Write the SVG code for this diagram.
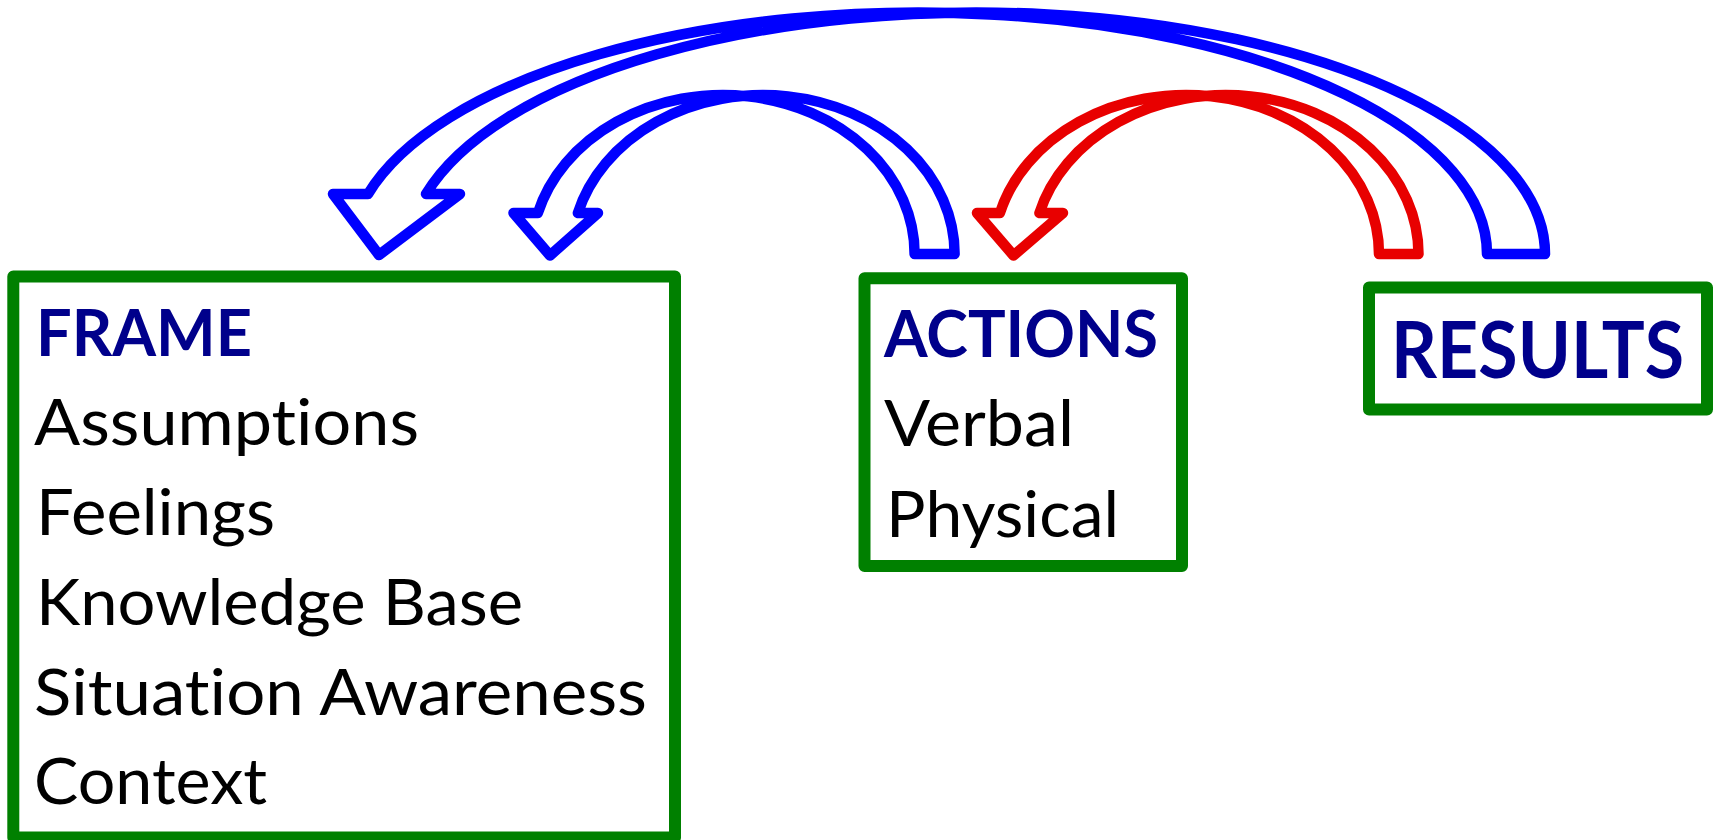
<svg xmlns="http://www.w3.org/2000/svg" width="1717" height="840" viewBox="0 0 1717 840">
  <style>
    text { font-variant-ligatures: none; font-feature-settings: "liga" 0, "clig" 0; }
    .box { fill: #FFFFFF; stroke: #008000; stroke-width: 12; stroke-linejoin: round; }
    .title { font-family: Lato, "Open Sans", "DejaVu Sans", sans-serif; font-weight: bold; fill: #00008B; }
    .item { font-family: Lato, "Open Sans", "DejaVu Sans", sans-serif; font-size: 64px; fill: #000000; }
    .arrow { fill: #FFFFFF; stroke-width: 10.5; stroke-linejoin: round; }
    .blue { stroke: #0000FF; }
    .red { stroke: #E80000; }
  </style>

  <!-- curved feedback arrows: two equal half-ellipses shifted sideways form the band;
       all arc end points lie exactly on their ellipses (centre line y = 254) -->
  <g id="connectors">
    <!-- RESULTS back to FRAME: centres x 918.6 / 976.6, rx 568.4, ry 241.5 -->
    <path class="arrow blue" d="M 1545 254 A 568.4 241.5 0 0 0 426.02 194 L 460 194 L 379 255 L 333 194 L 368.02 194 A 568.4 241.5 0 0 1 1487 254 Z"/>
    <!-- ACTIONS back to FRAME: centres x 723 / 763, rx 191.6, ry 159 -->
    <path class="arrow blue" d="M 954.6 254 A 191.6 159 0 0 0 577.88 213 L 598 213 L 550 255.5 L 513.5 213 L 537.88 213 A 191.6 159 0 0 1 914.6 254 Z"/>
    <!-- RESULTS back to ACTIONS: centres x 1186.2 / 1225.7, rx 192.8, ry 159 -->
    <path class="arrow red" d="M 1418.5 254 A 192.8 159 0 0 0 1039.42 213 L 1063 213 L 1013.5 255.5 L 977 213 L 999.92 213 A 192.8 159 0 0 1 1379 254 Z"/>
  </g>

  <g id="frame">
    <rect class="box" x="13.3" y="276.5" width="661.7" height="561"/>
    <text class="title" x="36" y="356" font-size="65" textLength="216" lengthAdjust="spacingAndGlyphs">FRAME</text>
    <text class="item" x="34" y="445" textLength="385" lengthAdjust="spacingAndGlyphs">Assumptions</text>
    <text class="item" x="36" y="535" textLength="239" lengthAdjust="spacingAndGlyphs">Feelings</text>
    <text class="item" x="36" y="625" textLength="487" lengthAdjust="spacingAndGlyphs">Knowledge Base</text>
    <text class="item" x="34" y="715" textLength="613" lengthAdjust="spacingAndGlyphs">Situation Awareness</text>
    <text class="item" x="34" y="804" textLength="233" lengthAdjust="spacingAndGlyphs">Context</text>
  </g>

  <g id="actions">
    <rect class="box" x="864.5" y="278.3" width="317.5" height="287.7"/>
    <text class="title" x="884" y="356.7" font-size="65" textLength="274" lengthAdjust="spacingAndGlyphs">ACTIONS</text>
    <text class="item" x="884" y="446" textLength="190" lengthAdjust="spacingAndGlyphs">Verbal</text>
    <text class="item" x="886" y="537" textLength="233" lengthAdjust="spacingAndGlyphs">Physical</text>
  </g>

  <g id="results">
    <rect class="box" x="1369" y="287.5" width="338" height="122"/>
    <text class="title" x="1391" y="378" font-size="78" textLength="293" lengthAdjust="spacingAndGlyphs">RESULTS</text>
  </g>
</svg>
